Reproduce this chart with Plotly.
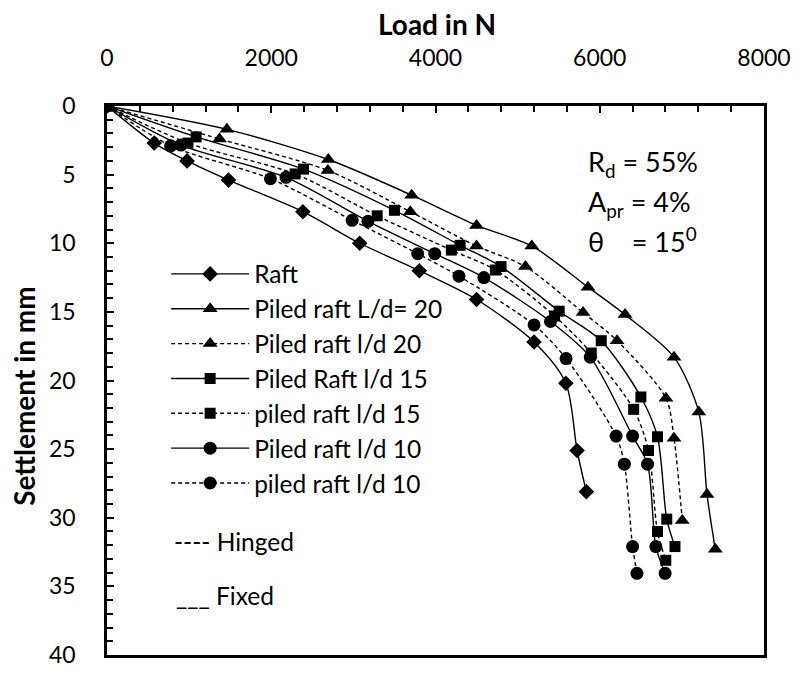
import plotly.graph_objects as go

# ---------------- data (Load in N vs Settlement in mm) ----------------
raft_load = [0, 575, 975, 1480, 2385, 3077, 3803, 4500, 5200, 5587, 5724, 5837]
raft_settle = [0, 2.7, 4.0, 5.4, 7.7, 10.0, 12.0, 14.1, 17.2, 20.2, 25.1, 28.1]

pr20_fixed_load = [0, 1460, 2695, 3710, 4500, 5172, 5857, 6308, 6904, 7206, 7306, 7407]
pr20_fixed_settle = [0, 1.7, 3.9, 6.5, 8.7, 10.2, 13.2, 15.2, 18.3, 22.3, 28.3, 32.3]

pr20_hinged_load = [0, 1370, 2690, 3693, 4500, 5095, 5797, 6211, 6806, 6904, 7005]
pr20_hinged_settle = [0, 2.4, 4.7, 7.7, 10.2, 11.7, 15.05, 17.1, 21.3, 24.2, 30.2]

pr15_fixed_load = [0, 1085, 2393, 3500, 4300, 4798, 5506, 6018, 6501, 6703, 6816, 6916]
pr15_fixed_settle = [0, 2.25, 4.6, 7.6, 10.15, 11.7, 14.95, 17.1, 21.2, 24.1, 30.1, 32.1]

pr15_hinged_load = [0, 985, 2290, 3290, 4193, 4729, 5450, 5897, 6413, 6594, 6703, 6804]
pr15_hinged_settle = [0, 2.7, 4.95, 8.0, 10.5, 11.95, 15.3, 18.0, 22.1, 25.1, 31.0, 33.1]

pr10_fixed_load = [0, 900, 2180, 3178, 3991, 4589, 5400, 5885, 6400, 6582, 6683, 6796]
pr10_fixed_settle = [0, 2.85, 5.2, 8.4, 10.76, 12.5, 15.7, 18.3, 24.05, 26.1, 32.1, 34.05]

pr10_hinged_load = [0, 775, 1990, 2985, 3783, 4286, 5200, 5590, 6199, 6300, 6400, 6453]
pr10_hinged_settle = [0, 2.9, 5.3, 8.33, 10.76, 12.4, 15.95, 18.4, 24.05, 26.1, 32.1, 34.05]

series_names = ["Raft", "Piled raft L/d= 20", "Piled raft l/d 20", "Piled Raft l/d 15",
                "piled raft l/d 15", "Piled raft l/d 10", "piled raft l/d 10"]

x_ticks = [0, 2000, 4000, 6000, 8000]
y_ticks = [0, 5, 10, 15, 20, 25, 30, 35, 40]

FONT = "Lato"
BLACK = "#000000"
DASH = "4px,3px"

series = [
    (series_names[0], raft_load, raft_settle, "solid", "diamond", 12),
    (series_names[1], pr20_fixed_load, pr20_fixed_settle, "solid", "triangle-up", 13),
    (series_names[2], pr20_hinged_load, pr20_hinged_settle, DASH, "triangle-up", 13),
    (series_names[3], pr15_fixed_load, pr15_fixed_settle, "solid", "square", 11),
    (series_names[4], pr15_hinged_load, pr15_hinged_settle, DASH, "square", 11),
    (series_names[5], pr10_fixed_load, pr10_fixed_settle, "solid", "circle", 13),
    (series_names[6], pr10_hinged_load, pr10_hinged_settle, DASH, "circle", 13),
]

fig = go.Figure()
for i, (name, xl, ys, dash, sym, size) in enumerate(series):
    fig.add_trace(go.Scatter(
        x=xl, y=ys, name=name, mode="lines+markers",
        line=dict(color=BLACK, width=1.4, dash=dash, shape="spline", smoothing=0.8),
        marker=dict(symbol=sym, size=size, color=BLACK),
    ))

fig.update_layout(
    width=803, height=680,
    margin=dict(l=107, r=34, t=106, b=14),
    paper_bgcolor="white", plot_bgcolor="white",
    font=dict(family=FONT, color=BLACK, size=24),
    showlegend=True,
    legend=dict(
        x=0.09, y=0.735, xanchor="left", yanchor="top",
        bgcolor="rgba(0,0,0,0)", borderwidth=0,
        font=dict(family=FONT, size=24.5, color=BLACK),
        tracegroupgap=0,
        itemwidth=78,
    ),
    xaxis=dict(
        range=[0, 8000], side="top", tickvals=x_ticks,
        ticks="inside", ticklen=7, tickwidth=2, tickcolor=BLACK,
        minor=dict(dtick=400, ticks="inside", ticklen=6, tickwidth=2, tickcolor=BLACK),
        showline=True, linewidth=2.5, linecolor=BLACK, mirror=True,
        showgrid=False, zeroline=False,
        tickfont=dict(family=FONT, size=23, color=BLACK),
        ticklabelstandoff=28,
    ),
    yaxis=dict(
        range=[40, 0], tickvals=y_ticks,
        ticks="inside", ticklen=7, tickwidth=2, tickcolor=BLACK,
        minor=dict(dtick=1, ticks="inside", ticklen=6, tickwidth=2, tickcolor=BLACK),
        showline=True, linewidth=2.5, linecolor=BLACK, mirror=True,
        showgrid=False, zeroline=False,
        tickfont=dict(family=FONT, size=23, color=BLACK),
        ticklabelstandoff=24,
    ),
)

def px_x(px):
    return (px - 107) / 662.0

def px_y(py):
    return 1 - (py - 106) / 560.0

annotations = [
    dict(text="<b>Load in N</b>", x=px_x(440), y=px_y(22), size=28),
    dict(text="R<sub>d</sub> = 55%", x=px_x(590), y=px_y(165), size=27, xanchor="left"),
    dict(text="A<sub>pr</sub> = 4%", x=px_x(590), y=px_y(205), size=27, xanchor="left"),
    dict(text="θ\u00a0\u00a0\u00a0 = 15<sup>0</sup>", x=px_x(590), y=px_y(243), size=27, xanchor="left"),
    dict(text="---- Hinged", x=px_x(172), y=px_y(550), size=24.5, xanchor="left"),
    dict(text="___ Fixed", x=px_x(175), y=px_y(605), size=24.5, xanchor="left"),
]
for a in annotations:
    fig.add_annotation(
        text=a["text"], x=a["x"], y=a["y"], xref="paper", yref="paper",
        xanchor=a.get("xanchor", "center"), yanchor="middle", showarrow=False,
        font=dict(family=FONT, size=a["size"], color=BLACK),
    )
fig.add_annotation(
    text="<b>Settlement in mm</b>", x=px_x(24), y=px_y(402), xref="paper", yref="paper",
    textangle=-90, showarrow=False, xanchor="center", yanchor="middle",
    font=dict(family=FONT, size=28, color=BLACK),
)

fig.write_html("out.html")
